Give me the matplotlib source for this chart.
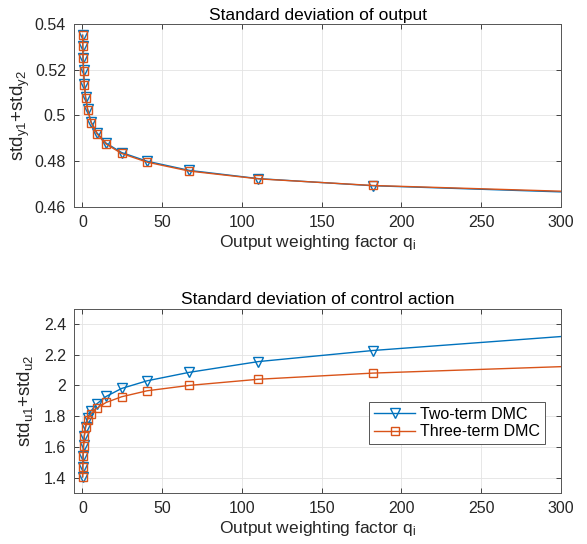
import matplotlib
matplotlib.use("Agg")
import matplotlib.pyplot as plt

plt.rcParams['font.family'] = ['Liberation Sans', 'DejaVu Sans']
plt.rcParams['mathtext.fontset'] = 'custom'
plt.rcParams['mathtext.rm'] = 'Liberation Sans'
plt.rcParams['mathtext.it'] = 'Liberation Sans'

# output weighting factor q_i (last point sits just past the axis edge)
q = [0.166, 0.27, 0.45, 0.74, 1.22, 2.02, 3.33, 5.49, 9.05, 14.9,
     24.6, 40.6, 67.0, 110.4, 182.0, 300.1]

# std of output
out_two = [0.5351, 0.5304, 0.5253, 0.5198, 0.5137, 0.5081, 0.5027, 0.4972,
           0.4925, 0.4879, 0.4838, 0.4800, 0.4760, 0.4724, 0.4693, 0.4666]
out_three = [0.5350, 0.5302, 0.5250, 0.5195, 0.5134, 0.5078, 0.5024, 0.4969,
             0.4921, 0.4875, 0.4834, 0.4796, 0.4757, 0.4723, 0.4694, 0.4669]

# std of control action
ctl_two = [1.405, 1.471, 1.542, 1.610, 1.672, 1.732, 1.790, 1.835, 1.880,
           1.928, 1.980, 2.030, 2.085, 2.155, 2.227, 2.318]
ctl_three = [1.405, 1.469, 1.539, 1.604, 1.669, 1.728, 1.778, 1.817, 1.852,
             1.889, 1.926, 1.965, 2.000, 2.040, 2.080, 2.122]

labels = ['Two-term DMC', 'Three-term DMC']
blue = '#0072BD'
orange = '#D95319'
axcol = '#262626'

fig = plt.figure(figsize=(5.87, 5.44), dpi=100)
ax1 = fig.add_axes([0.1267, 0.6195, 0.829, 0.3364])
ax2 = fig.add_axes([0.1267, 0.0938, 0.829, 0.339])


def style(ax):
    ax.set_xlim(-5, 300)
    ax.set_xticks([0, 50, 100, 150, 200, 250, 300])
    ax.grid(True, color='#e3e3e3', lw=0.6)
    ax.set_axisbelow(True)
    ax.tick_params(direction='in', top=True, right=True, length=3.5,
                   width=0.6, colors=axcol, labelsize=11.5, pad=6)
    for s in ax.spines.values():
        s.set_color('#555555')
        s.set_linewidth(0.7)
    ax.set_xlabel('Output weighting factor q$_\\mathregular{i}$', fontsize=12.5,
                  color=axcol, labelpad=2)


mk = dict(markerfacecolor='none', markeredgewidth=1.0,
          lw=1.0, markevery=slice(0, -1))

ax1.plot(q, out_two, color=blue, marker='v', markersize=6.5, label=labels[0], **mk)
ax1.plot(q, out_three, color=orange, marker='s', markersize=5.5, label=labels[1], **mk)
style(ax1)
ax1.set_ylim(0.46, 0.54)
ax1.set_yticks([0.46, 0.48, 0.5, 0.52, 0.54])
ax1.set_yticklabels(['0.46', '0.48', '0.5', '0.52', '0.54'])
ax1.set_ylabel('std$_\\mathregular{y1}$+std$_\\mathregular{y2}$', fontsize=13.5,
               color=axcol, labelpad=2)
ax1.set_title('Standard deviation of output', fontsize=12.5, color='black', pad=3)

ax2.plot(q, ctl_two, color=blue, marker='v', markersize=6.5, label=labels[0], **mk)
ax2.plot(q, ctl_three, color=orange, marker='s', markersize=5.5, label=labels[1], **mk)
style(ax2)
ax2.set_ylim(1.3, 2.5)
ax2.set_yticks([1.4, 1.6, 1.8, 2.0, 2.2, 2.4])
ax2.set_yticklabels(['1.4', '1.6', '1.8', '2', '2.2', '2.4'])
ax2.set_ylabel('std$_\\mathregular{u1}$+std$_\\mathregular{u2}$', fontsize=13.5,
               color=axcol, labelpad=6)
ax2.set_title('Standard deviation of control action', fontsize=12.5,
              color='black', pad=3)

leg = ax2.legend(loc='lower right', bbox_to_anchor=(0.967, 0.266),
                 fontsize=11.5, fancybox=False, framealpha=1,
                 edgecolor='#555555', borderpad=0.3, handlelength=2.6,
                 handletextpad=0.3, labelspacing=0.15, borderaxespad=0)
leg.get_frame().set_linewidth(0.7)

fig.savefig('out.png', dpi=100)
